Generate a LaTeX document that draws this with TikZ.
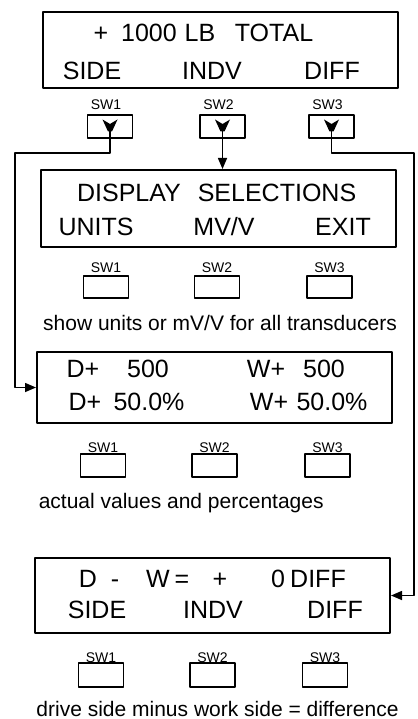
\documentclass[tikz,border=0pt]{standalone}
\usepackage{fontspec}
\setmainfont{Liberation Sans}
\usetikzlibrary{arrows.meta}
\tikzset{
  panel/.style={draw, line width=2pt, minimum width=355pt, inner sep=0pt},
  swbox/.style={draw, line width=1.3pt, minimum width=45pt, minimum height=23pt, inner sep=0pt},
  swlab/.style={font=\fontsize{14}{16}\selectfont, inner sep=0pt, anchor=base},
  big/.style={font=\fontsize{25}{29}\selectfont, inner sep=0pt, anchor=base},
  captext/.style={font=\fontsize{21}{25}\selectfont, inner sep=0pt, anchor=base},
}
\begin{document}
\begin{tikzpicture}[x=1pt, y=-1pt, >={Triangle[length=11pt,width=9pt]}, line width=1.5pt, line join=round]
			\useasboundingbox (0,0) rectangle (417,719);
			% total display
			\node[panel, minimum height=76pt] (p1) at (220.5,50) {};
			\node[big] (t1a) at (101,41.5) {+};
			\node[big] (t1b) at (149,41.5) {1000};
			\node[big] (t1c) at (200,41.5) {LB};
			\node[big] (t1d) at (274,41.5) {TOTAL};
			\foreach \t/\x [count=\i] in {SIDE/92,INDV/212,DIFF/332}{
				\node[big] (s1\i) at (\x,80) {\t};
			}
			\foreach \x [count=\i] in {110,222.5,331.5}{
				\node[swbox] (a\i) at (\x,126.5) {};
				\node[swlab] (la\i) at (\x-4,110) {SW\i};
			}
			% display selections
			\node[panel, minimum height=77pt] (p2) at (218.5,208.5) {};
			\node[big] (t2a) at (129,201.5) {DISPLAY};
			\node[big] (t2b) at (277,201.5) {SELECTIONS};
			\node[big] (s21) at (96,235) {UNITS};
			\node[big] (s22) at (224,235) {MV/V};
			\node[big] (s23) at (343,235) {EXIT};
			\foreach \x [count=\i] in {106,217,329.5}{
				\node[swbox, minimum height=22pt] (b\i) at (\x,287) {};
				\node[swlab] (lb\i) at (\x,272) {SW\i};
			}
			\node[captext] (c2) at (220,330) {show units or mV/V for all transducers};
			% actual values
			\node[panel, minimum height=71pt] (p3) at (214.5,387.5) {};
			\node[big] (t3a) at (83,377) {D+};
			\node[big] (t3b) at (148,377) {500};
			\node[big] (t3c) at (266,377) {W+};
			\node[big] (t3d) at (324,377) {500};
			\node[big] (t3e) at (85,410) {D+};
			\node[big] (t3f) at (149,410) {50.0\%};
			\node[big] (t3g) at (269,410) {W+};
			\node[big] (t3h) at (332,410) {50.0\%};
			\foreach \x [count=\i] in {103,214.5,327.5}{
				\node[swbox] (c\i) at (\x,465.5) {};
				\node[swlab] (lc\i) at (\x,452) {SW\i};
			}
			\node[captext, anchor=base west] (c3) at (38,508) {actual values and percentages};
			% difference
			\node[panel, minimum height=75pt] (p4) at (212.5,595.5) {};
			\foreach \t/\x [count=\i] in {D/88,-/115,W/158,=/182,+/220,0/278,DIFF/318}{
				\node[big] (t4\i) at (\x,587) {\t};
			}
			\foreach \t/\x [count=\i] in {SIDE/97,INDV/213,DIFF/335}{
				\node[big] (s4\i) at (\x,618) {\t};
			}
			\foreach \x [count=\i] in {101,212.5,325}{
				\node[swbox, minimum height=24pt] (d\i) at (\x,675) {};
				\node[swlab] (ld\i) at (\x,662) {SW\i};
			}
			\node[captext] (c4) at (217.5,716) {drive side minus work side = difference};
			% switch paths
			\coordinate (kl) at (15,153);
			\coordinate (kr) at (414,153);
			\draw[->] (a1.center) |- (kl) |- (p3.west);
			\draw[->] (a2.center) -- (a2.center |- p2.north);
			\draw[->] (a3.center) |- (kr) |- (p4.east);
			\foreach \i in {1,2,3}{
				\fill ([shift={(-7.5,-7)}]a\i.center) -- ++(7.5,4.5) -- ++(7.5,-4.5) -- ++(-5.5,12) -- ++(-4,0) -- cycle;
			}
		\end{tikzpicture}
\end{document}
